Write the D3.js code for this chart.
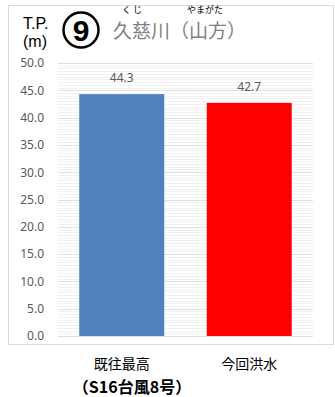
<!DOCTYPE html>
<html>
<head>
<meta charset="utf-8">
<script src="https://cdn.jsdelivr.net/npm/d3@7"></script>
<style>
  body { margin: 0; background: #fff; }
  svg text { font-family: "Noto Sans CJK JP", "Noto Sans", sans-serif; }
</style>
</head>
<body>
<svg id="chart" width="335" height="397"></svg>
<script>
(function () {
  'use strict';

  // data
  var categories = ['既往最高', '今回洪水'];
  var values = [44.3, 42.7];
  var barColors = ['#4f81bd', '#ff0000'];
  var yTicks = [0, 5, 10, 15, 20, 25, 30, 35, 40, 45, 50];
  var subLabel = '（S16台風8号）';

  var svg = d3.select('#chart');
  var plot = { left: 58, right: 313, top: 63, bottom: 336 };

  // outer frame
  svg.append('rect')
    .attr('x', 8.5).attr('y', 5.5)
    .attr('width', 325).attr('height', 339)
    .attr('fill', '#fff')
    .attr('stroke', '#d9d9d9');

  var y = d3.scaleLinear().domain([0, 50]).range([plot.bottom, plot.top]);
  var x = d3.scaleBand().domain(categories)
    .range([plot.left, plot.right])
    .paddingInner(1 / 3).paddingOuter(1 / 6);

  // striped minor gridlines
  var minor = d3.range(0, 50.01, 0.5);
  svg.append('g').selectAll('line')
    .data(minor)
    .enter().append('line')
    .attr('x1', plot.left).attr('x2', plot.right)
    .attr('y1', function(d) { return Math.round(y(d)) + 0.5; })
    .attr('y2', function(d) { return Math.round(y(d)) + 0.5; })
    .attr('stroke', '#f2f2f2');

  // major gridlines
  svg.append('g').selectAll('line')
    .data(yTicks)
    .enter().append('line')
    .attr('x1', plot.left).attr('x2', plot.right)
    .attr('y1', function(d) { return Math.round(y(d)) + 0.5; })
    .attr('y2', function(d) { return Math.round(y(d)) + 0.5; })
    .attr('stroke', '#e0e0e0');

  // y axis
  var yAxis = d3.axisLeft(y).tickValues(yTicks)
    .tickFormat(d3.format('.1f')).tickSize(0).tickPadding(0);
  var ya = svg.append('g')
    .attr('transform', 'translate(44,0)')
    .call(yAxis);
  ya.select('.domain').remove();
  ya.selectAll('text')
    .attr('fill', '#595959')
    .style('font-family', '"Noto Sans", sans-serif')
    .style('font-size', '12px');

  // bars
  svg.append('g').selectAll('rect')
    .data(values)
    .enter().append('rect')
    .attr('x', function(d, i) { return x(categories[i]); })
    .attr('y', function(d) { return y(d); })
    .attr('width', x.bandwidth())
    .attr('height', function(d) { return y(0) - y(d); })
    .attr('fill', function(d, i) { return barColors[i]; });

  // value labels
  svg.append('g').selectAll('text')
    .data(values)
    .enter().append('text')
    .attr('x', function(d, i) { return x(categories[i]) + x.bandwidth() / 2; })
    .attr('y', function(d) { return y(d) - 12; })
    .attr('text-anchor', 'middle')
    .attr('fill', '#595959')
    .style('font-family', '"Noto Sans", sans-serif')
    .style('font-size', '12px')
    .text(function(d) { return d.toFixed(1); });

  // category labels
  svg.append('g').selectAll('text')
    .data(categories)
    .enter().append('text')
    .attr('x', function(d) { return x(d) + x.bandwidth() / 2; })
    .attr('y', 369)
    .attr('text-anchor', 'middle')
    .attr('fill', '#000')
    .style('font-size', '14px')
    .text(function(d) { return d; });

  svg.append('text')
    .attr('x', 132).attr('y', 393)
    .attr('text-anchor', 'middle')
    .attr('fill', '#000')
    .style('font-size', '16px')
    .style('font-weight', 'bold')
    .text(subLabel);

  // title block
  svg.append('text').attr('x', 23).attr('y', 29)
    .style('font-family', '"Liberation Sans", Arial, sans-serif')
    .style('font-size', '16px').attr('fill', '#000').text('T.P.');
  svg.append('text').attr('x', 23).attr('y', 47)
    .style('font-family', '"Liberation Sans", Arial, sans-serif')
    .style('font-size', '16px').attr('fill', '#000').text('(m)');

  svg.append('circle').attr('cx', 81).attr('cy', 30).attr('r', 17.5)
    .attr('fill', 'none').attr('stroke', '#000').attr('stroke-width', 2.5);
  svg.append('text').attr('x', 81).attr('y', 41)
    .attr('text-anchor', 'middle')
    .style('font-size', '30px').style('font-weight', 'bold')
    .style('font-family', '"Liberation Sans", Arial, sans-serif')
    .attr('fill', '#000').text('9');

  svg.append('text').attr('x', 113).attr('y', 38)
    .style('font-size', '19px').attr('fill', '#7f7f7f').text('久慈川（山方）');
  svg.append('text').attr('x', 132).attr('y', 13)
    .attr('text-anchor', 'middle')
    .style('font-size', '9px').attr('fill', '#000').text('く じ');
  svg.append('text').attr('x', 205).attr('y', 13)
    .attr('text-anchor', 'middle')
    .style('font-size', '9px').attr('fill', '#000').text('やまがた');
}());
</script>
</body>
</html>
